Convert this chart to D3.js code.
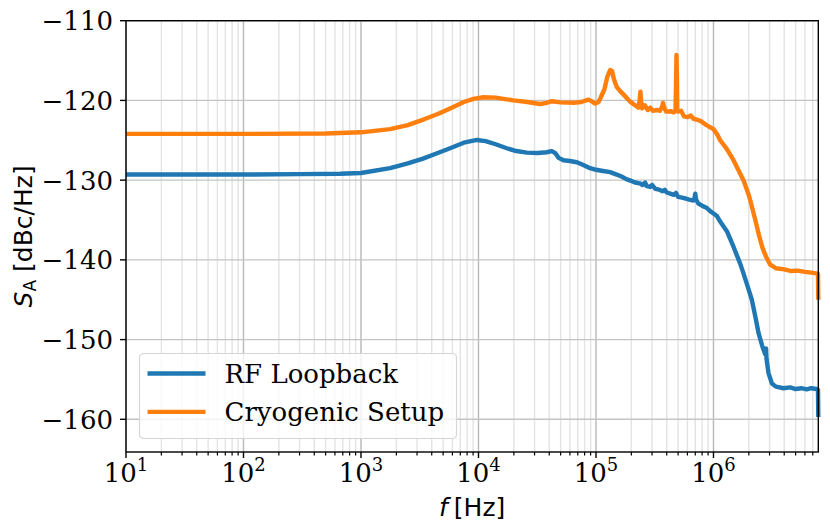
<!DOCTYPE html>
<html>
<head>
<meta charset="utf-8">
<script src="https://cdn.jsdelivr.net/npm/d3@7"></script>
<style>
  body { margin: 0; background: #fff; }
  svg { display: block; }
  .tick-label { font-family: "DejaVu Serif", serif; font-size: 26px; fill: #000; }
  .axis-title { font-family: "DejaVu Sans", sans-serif; font-size: 25px; fill: #000; }
  .legend-text { font-family: "DejaVu Serif", serif; font-size: 26px; fill: #000; }
</style>
</head>
<body>
<svg id="chart" width="830" height="532"></svg>
<script>
// RF Loopback trace
var rfFreq = [10, 100, 300, 664, 1000, 1770, 2500, 3373, 4500, 5730, 7500, 9700, 11500, 14000, 17400,
  21000, 25800, 32000, 38000, 42000, 45000, 48000, 52900, 60000, 68700, 78000, 89100, 100000, 115000,
  132000, 150000, 165000, 183000, 200000, 215000, 235000, 250000, 262000, 270000, 289000, 300000, 320000,
  345000, 370000, 385000, 400000, 428000, 460000, 480000, 500000, 540000, 580000, 620000, 676000, 690000, 700000,
  710000, 740000, 800000, 879000, 960000, 1070000, 1140000, 1300000, 1480000, 1690000, 1800000,
  1950000, 2120000, 2270000, 2420000, 2600000, 2750000, 2800000, 2830000, 2940000, 3140000, 3400000,
  3950000, 4500000, 5000000, 5600000, 6200000, 6800000, 7500000, 7750000, 7800000];
var rfLevel = [-129.3, -129.3, -129.25, -129.2, -129.1, -128.5, -127.9, -127.3, -126.6, -126.0, -125.3,
  -124.96, -125.1, -125.5, -126.0, -126.35, -126.55, -126.6, -126.5, -126.35, -126.6, -127.2, -127.5,
  -127.6, -127.75, -128.1, -128.5, -128.7, -128.85, -129.0, -129.3, -129.55, -129.9, -130.1, -130.3,
  -130.4, -130.6, -130.3, -130.75, -130.85, -130.6, -131.1, -131.2, -131.4, -131.2, -131.55, -131.7,
  -131.85, -131.6, -132.1, -132.2, -132.3, -132.45, -132.55, -132.2, -131.7, -132.4, -132.9, -133.2,
  -133.5, -134.0, -134.5, -135.2, -136.4, -138.35, -140.5, -141.7, -143.3, -145.0, -147.1, -149.2,
  -150.8, -151.8, -151.1, -152.5, -154.2, -155.5, -155.9, -156.1, -156.0, -156.2, -156.1, -156.25,
  -156.1, -156.2, -156.3, -159.7];

// Cryogenic setup trace
var cryoFreq = [10, 100, 500, 1000, 1770, 2500, 3400, 4500, 5730, 7500, 9060, 11000, 14000, 19800,
  26000, 33500, 38000, 42100, 50000, 64400, 75000, 86300, 92000, 98400, 105000, 110000, 118000, 125000,
  132000, 137000, 142000, 150000, 160000, 175000, 195000, 215000, 230000, 236000, 239000, 242000,
  247000, 260000, 275000, 290000, 305000, 330000, 350000, 365000, 372000, 380000, 395000, 430000,
  460000, 475000, 480000, 484000, 488000, 492000, 500000, 530000, 560000, 600000, 640000, 676000, 720000,
  780000, 850000, 920000, 1000000, 1080000, 1140000, 1300000, 1480000, 1650000, 1800000, 2000000,
  2120000, 2270000, 2420000, 2600000, 2800000, 3040000, 3400000, 4000000, 4600000, 5200000, 6000000,
  6800000, 7500000, 7750000, 7800000];
var cryoLevel = [-124.2, -124.2, -124.15, -124.0, -123.6, -123.1, -122.4, -121.7, -121.0, -120.2, -119.8,
  -119.6, -119.65, -120.0, -120.2, -120.45, -120.3, -120.1, -120.25, -120.3, -120.2, -119.9, -120.1,
  -120.4, -120.2, -119.6, -118.6, -117.0, -116.2, -116.3, -117.3, -118.3, -118.8, -119.4, -120.15,
  -120.6, -120.9, -119.8, -118.9, -120.0, -121.0, -120.6, -121.2, -120.9, -121.3, -121.2, -121.3,
  -120.8, -120.3, -120.9, -121.4, -121.35, -121.5, -121.3, -118.0, -114.3, -116.5, -121.2, -121.4,
  -121.3, -122.0, -122.1, -121.9, -122.3, -122.4, -122.6, -123.0, -123.3, -123.6, -124.3, -125.0, -126.1,
  -127.5, -128.9, -130.0, -131.9, -133.3, -135.0, -136.7, -138.4, -139.6, -140.6, -141.05, -141.2,
  -141.4, -141.35, -141.5, -141.6, -141.7, -141.75, -145.0];

var yTicks = [-110, -120, -130, -140, -150, -160];
var xExponents = [1, 2, 3, 4, 5, 6];
var seriesNames = ["RF Loopback", "Cryogenic Setup"];
var seriesColors = ["#1f77b4", "#ff7f0e"];

var svg = d3.select("#chart");
var pLeft = 126, pRight = 818.3, pTop = 20.7, pBottom = 452;

var x = d3.scaleLog().domain([10, 7.8e6]).range([pLeft, pRight]);
var y = d3.scaleLinear().domain([-164.1, -110]).range([pBottom, pTop]);

// minor tick positions: 2..9 x 10^k
var minorX = [];
for (var k = 1; k <= 6; k++) {
  for (var m = 2; m <= 9; m++) {
    var v = m * Math.pow(10, k);
    if (v <= 7.8e6) minorX.push(v);
  }
}
var majorX = xExponents.map(function(e) { return Math.pow(10, e); });

var grid = svg.append("g");
grid.selectAll(".minor").data(minorX).enter().append("line")
  .attr("x1", function(d) { return x(d); }).attr("x2", function(d) { return x(d); })
  .attr("y1", pTop).attr("y2", pBottom)
  .attr("stroke", "#e3e3e3").attr("stroke-width", 1.4);
grid.selectAll(".majorx").data(majorX).enter().append("line")
  .attr("x1", function(d) { return x(d); }).attr("x2", function(d) { return x(d); })
  .attr("y1", pTop).attr("y2", pBottom)
  .attr("stroke", "#b8b8b8").attr("stroke-width", 1.4);
grid.selectAll(".majory").data(yTicks).enter().append("line")
  .attr("x1", pLeft).attr("x2", pRight)
  .attr("y1", function(d) { return y(d); }).attr("y2", function(d) { return y(d); })
  .attr("stroke", "#c4c4c4").attr("stroke-width", 1.4);

// traces
var line = d3.line()
  .x(function(d) { return x(d[0]); })
  .y(function(d) { return y(d[1]); });

var plot = svg.append("g");
plot.append("path")
  .datum(rfFreq.map(function(f, i) { return [f, rfLevel[i]]; }))
  .attr("d", line).attr("fill", "none")
  .attr("stroke", seriesColors[0]).attr("stroke-width", 4.4).attr("stroke-linejoin", "round");
plot.append("path")
  .datum(cryoFreq.map(function(f, i) { return [f, cryoLevel[i]]; }))
  .attr("d", line).attr("fill", "none")
  .attr("stroke", seriesColors[1]).attr("stroke-width", 4.4).attr("stroke-linejoin", "round");

// axes
var xAxis = svg.append("g").attr("transform", "translate(0," + pBottom + ")");
xAxis.selectAll(".mt").data(minorX).enter().append("line")
  .attr("x1", function(d) { return x(d); }).attr("x2", function(d) { return x(d); })
  .attr("y1", 0).attr("y2", 3.5).attr("stroke", "#000").attr("stroke-width", 1.2);
xAxis.selectAll(".Mt").data(majorX).enter().append("line")
  .attr("x1", function(d) { return x(d); }).attr("x2", function(d) { return x(d); })
  .attr("y1", 0).attr("y2", 6).attr("stroke", "#000").attr("stroke-width", 1.4);
var xl = xAxis.selectAll(".xl").data(xExponents).enter().append("text")
  .attr("class", "tick-label")
  .attr("x", function(d) { return x(Math.pow(10, d)); })
  .attr("y", 30)
  .attr("text-anchor", "middle");
xl.append("tspan").text("10");
xl.append("tspan").attr("dy", -11).attr("font-size", "18px").text(function(d) { return d; });

var yAxis = svg.append("g").attr("transform", "translate(" + pLeft + ",0)");
yAxis.selectAll(".yt").data(yTicks).enter().append("line")
  .attr("x1", -6).attr("x2", 0)
  .attr("y1", function(d) { return y(d); }).attr("y2", function(d) { return y(d); })
  .attr("stroke", "#000").attr("stroke-width", 1.4);
yAxis.selectAll(".yl").data(yTicks).enter().append("text")
  .attr("class", "tick-label")
  .attr("x", -13)
  .attr("y", function(d) { return y(d); })
  .attr("dy", "0.36em")
  .attr("text-anchor", "end")
  .text(function(d) { return "\u2212" + Math.abs(d); });

// frame
svg.append("rect")
  .attr("x", pLeft).attr("y", pTop)
  .attr("width", pRight - pLeft).attr("height", pBottom - pTop)
  .attr("fill", "none").attr("stroke", "#000").attr("stroke-width", 1.4);

// axis titles
var xt = svg.append("text").attr("class", "axis-title")
  .attr("x", (pLeft + pRight) / 2).attr("y", 516).attr("text-anchor", "middle");
xt.append("tspan").attr("font-style", "italic").text("f");
xt.append("tspan").attr("dx", 6).text("[Hz]");

var yt = svg.append("text").attr("class", "axis-title")
  .attr("transform", "translate(32," + ((pTop + pBottom) / 2) + ") rotate(-90)")
  .attr("text-anchor", "middle");
yt.append("tspan").attr("font-style", "italic").text("S");
yt.append("tspan").attr("dy", 4).attr("font-size", "17px").text("A");
yt.append("tspan").attr("dy", -4).text(" [dBc/Hz]");

// legend
var lg = svg.append("g").attr("transform", "translate(139.5,353.5)");
lg.append("rect").attr("width", 317).attr("height", 85).attr("rx", 4)
  .attr("fill", "#fff").attr("fill-opacity", 0.8)
  .attr("stroke", "#d6d6d6").attr("stroke-width", 1.2);
var item = lg.selectAll(".item").data(seriesNames).enter().append("g")
  .attr("transform", function(d, i) { return "translate(0," + (20 + i * 38.4) + ")"; });
item.append("line").attr("x1", 8).attr("x2", 66)
  .attr("stroke", function(d, i) { return seriesColors[i]; }).attr("stroke-width", 4.4);
item.append("text").attr("class", "legend-text")
  .attr("x", 85).attr("dy", "0.36em").text(function(d) { return d; });
</script>
</body>
</html>
